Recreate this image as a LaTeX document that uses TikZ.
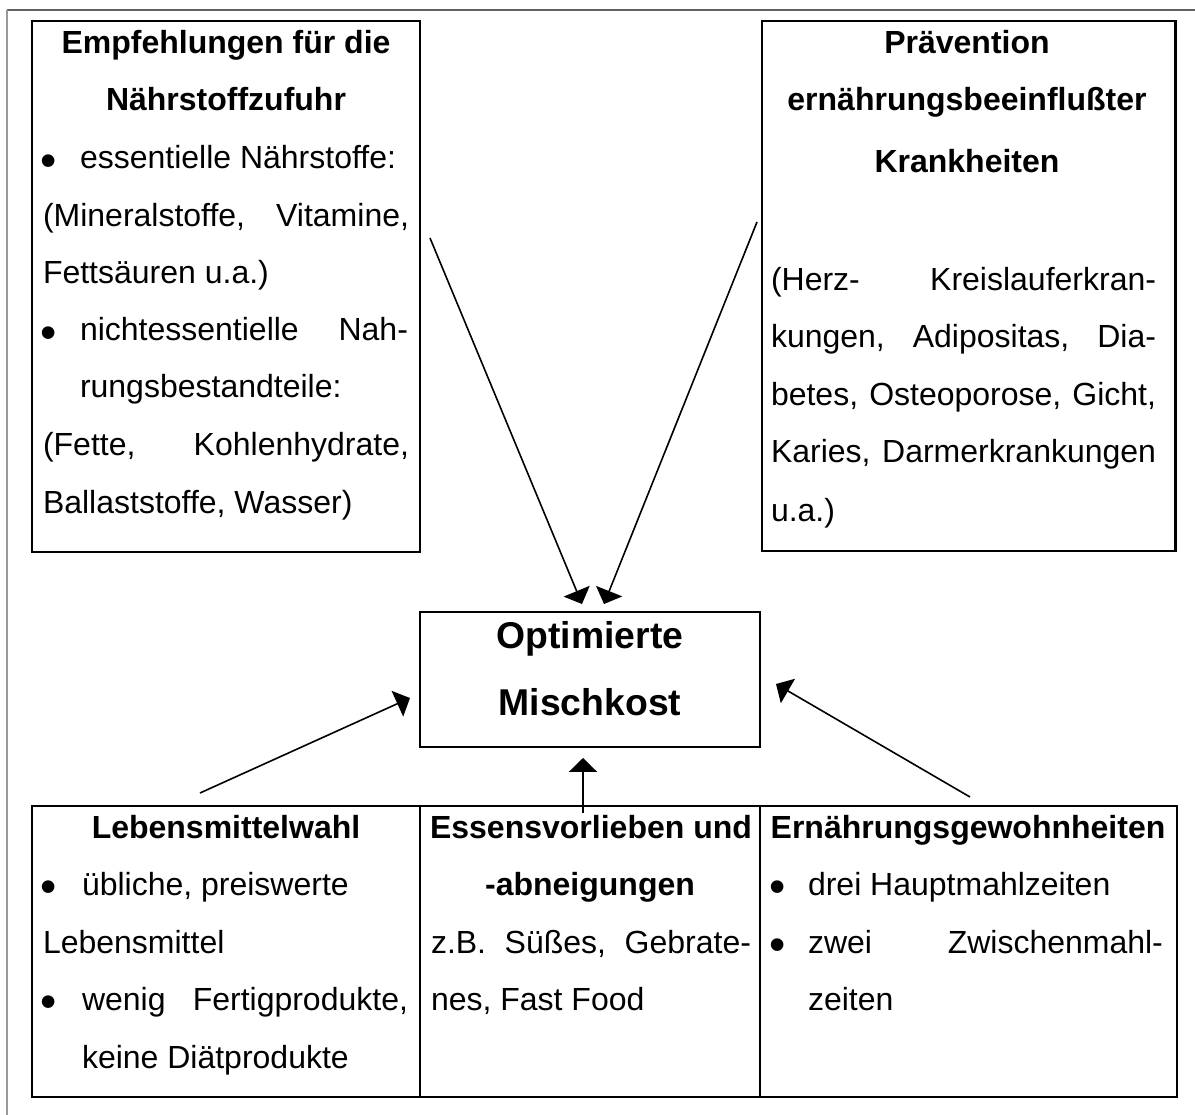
\documentclass[tikz,border=0pt]{standalone}
\usepackage{fontspec}
\setmainfont{Liberation Sans}
\usetikzlibrary{arrows.meta,fit}
\newcommand{\bigbullet}{\raisebox{-2.8pt}{\scalebox{1.45}{•}}}
\begin{document}
\begin{tikzpicture}[x=0.375pt,y=-0.375pt,
  frame/.style={draw=black,line width=0.85pt,inner sep=0pt,outer sep=0pt},
  conn/.style={line width=0.6pt,-{Triangle[length=5.2pt,width=10.5pt]}},
  txt/.style={anchor=base west,inner sep=0pt,outer sep=0pt,font=\fontsize{12}{14}\selectfont},
  head/.style={anchor=base,inner sep=0pt,outer sep=0pt,font=\fontsize{12}{14}\selectfont\bfseries},
  bighead/.style={anchor=base,inner sep=0pt,outer sep=0pt,font=\fontsize{14}{16}\selectfont\bfseries},
  bul/.style={anchor=base,inner sep=0pt,outer sep=0pt,font=\fontsize{12}{14}\selectfont},
]
\useasboundingbox (0,0) rectangle (1195,1115);

% page frame (open on the right and at the bottom)
\draw[black!62,line width=0.45pt] (7,10) -- (1195,10);
\draw[black!40,line width=0.45pt] (7,10) -- (7,1115);

% ---------- boxes ----------
\node[frame,fit={(32,21) (420,552)}] (emp) {};
\node[frame,fit={(762,21) (1176,551)}] (prv) {};
\draw[line width=1.3pt] ([xshift=-0.2pt]prv.north east) -- ([xshift=-0.2pt]prv.south east);
\node[frame,fit={(420,612) (760,747)}] (opt) {};
\node[frame,fit={(32,806) (420,1097)}] (lmw) {};
\node[frame,fit={(420,806) (760,1097)}] (evl) {};
\node[frame,fit={(760,806) (1177,1097)}] (eg) {};
\draw[line width=1.1pt] (eg.north east) -- (eg.south east);

% ---------- Empfehlungen ----------
\node[head] (e1) at (226,54) {Empfehlungen für die};
\node[head] (e2) at (226,111) {Nährstoffzufuhr};
\node[bul]  (e3b) at (49,169) {\bigbullet};
\node[txt]  (e3) at (80,169) {essentielle Nährstoffe:};
\node[txt]  (e4) at (43,227) {\hbox to 137.25pt{(Mineralstoffe,\hfill Vitamine,}};
\node[txt]  (e5) at (43,284) {Fettsäuren u.a.)};
\node[bul]  (e6b) at (49,341) {\bigbullet};
\node[txt]  (e6) at (80,341) {\hbox to 123pt{nichtessentielle\hfill Nah-}};
\node[txt]  (e7) at (80,398) {rungsbestandteile:};
\node[txt]  (e8) at (43,456) {\hbox to 137.25pt{(Fette,\hfill Kohlenhydrate,}};
\node[txt]  (e9) at (43,513) {Ballaststoffe, Wasser)};

% ---------- Prävention ----------
\node[head] (p1) at (967,54) {Prävention};
\node[head] (p2) at (967,111) {ernährungsbeeinflußter};
\node[head] (p3) at (967,173) {Krankheiten};
\node[txt]  (p4) at (771,291) {\hbox to 144.4pt{(Herz-\hfill Kreislauferkran-}};
\node[txt]  (p5) at (771,348) {\hbox to 144.4pt{kungen,\hfill Adipositas,\hfill Dia-}};
\node[txt]  (p6) at (771,406) {\hbox to 144.4pt{betes,\hfill Osteoporose,\hfill Gicht,}};
\node[txt]  (p7) at (771,463) {\hbox to 144.4pt{Karies,\hfill Darmerkrankungen}};
\node[txt]  (p8) at (771,521) {u.a.)};

% ---------- Optimierte Mischkost ----------
\node[bighead] (o1) at (590,648) {Optimierte};
\node[bighead] (o2) at (590,715) {Mischkost};

% ---------- Lebensmittelwahl ----------
\node[head] (l1) at (226,838) {Lebensmittelwahl};
\node[bul]  (l2b) at (49,895) {\bigbullet};
\node[txt]  (l2) at (82,895) {übliche, preiswerte};
\node[txt]  (l3) at (43,953) {Lebensmittel};
\node[bul]  (l4b) at (49,1010) {\bigbullet};
\node[txt]  (l4) at (82,1010) {\hbox to 122.25pt{wenig\hfill Fertigprodukte,}};
\node[txt]  (l5) at (82,1068) {keine Diätprodukte};

% ---------- Essensvorlieben ----------
\node[head] (v1) at (591,838) {Essensvorlieben und};
\node[head] (v2) at (590,895) {-abneigungen};
\node[txt]  (v3) at (431,953) {\hbox to 120pt{z.B.\hfill Süßes,\hfill Gebrate-}};
\node[txt]  (v4) at (431,1010) {nes, Fast Food};

% ---------- Ernährungsgewohnheiten ----------
\node[head] (g1) at (968,838) {Ernährungsgewohnheiten};
\node[bul]  (g2b) at (778,895) {\bigbullet};
\node[txt]  (g2) at (808,895) {drei Hauptmahlzeiten};
\node[bul]  (g3b) at (778,953) {\bigbullet};
\node[txt]  (g3) at (808,953) {\hbox to 133.1pt{zwei\hfill Zwischenmahl-}};
\node[txt]  (g4) at (808,1010) {zeiten};

% ---------- connectors ----------
\coordinate (a1s) at (430,238);  \coordinate (a1t) at (582,604);
\coordinate (a2s) at (757,222);  \coordinate (a2t) at (604,604);
\coordinate (a3s) at (200,793);  \coordinate (a3t) at (410,698);
\coordinate (a4s) at (970,797);  \coordinate (a4t) at (776,684);
\coordinate (a5s) at (583,813);  \coordinate (a5t) at (583,758);
\draw[conn] (a1s) -- (a1t);
\draw[conn] (a2s) -- (a2t);
\draw[conn] (a3s) -- (a3t);
\draw[conn] (a4s) -- (a4t);
\draw[conn] (a5s) -- (a5t);
\end{tikzpicture}
\end{document}
